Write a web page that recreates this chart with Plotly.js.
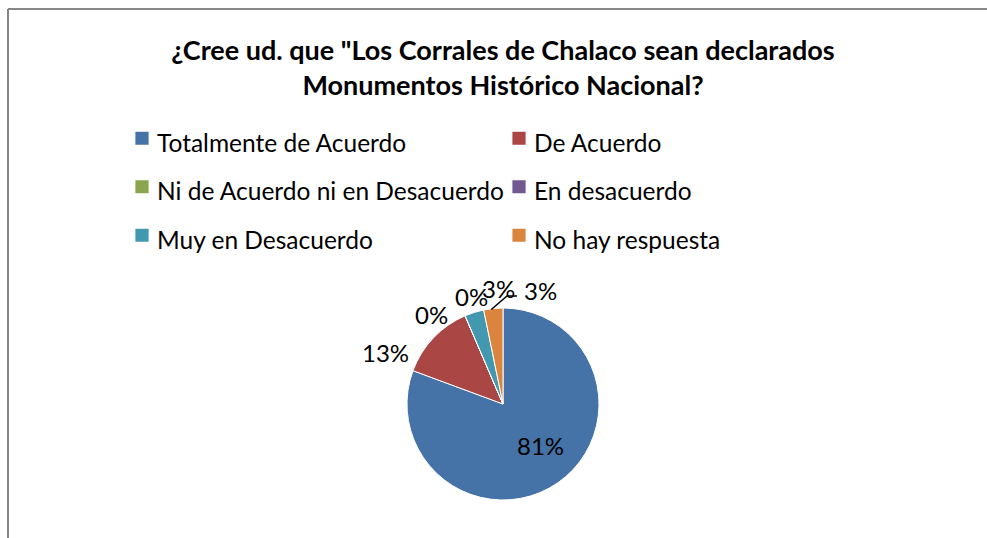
<!DOCTYPE html>
<html>
<head>
<meta charset="utf-8">
<script src="https://cdn.plot.ly/plotly-3.0.1.min.js"></script>
<style>
html,body{margin:0;padding:0;background:#fff;}
#chart{width:987px;height:538px;}
#chart .legendpie{transform: translate(25px,0px) scale(1.2);}
</style>
</head>
<body>
<div id="chart"></div>
<script>
const categories = ["Totalmente de Acuerdo", "De Acuerdo", "Ni de Acuerdo ni en Desacuerdo", "En desacuerdo", "Muy en Desacuerdo", "No hay respuesta"];
const responses = [25, 4, 0, 0, 1, 1];
const sliceColors = ["#4572A7", "#AA4643", "#89A54E", "#71588F", "#4198AF", "#DB843D"];
const titleText = '¿Cree ud. que "Los Corrales de Chalaco sean declarados<br>Monumentos Histórico Nacional?';

const FONT = "Lato, 'Open Sans', sans-serif";
const W = 987, H = 538;
// pie geometry (pixels)
const CX = 503, CY = 404, R = 96;
// label placement (pixel offsets from pie centre) imitating the original's best-fit layout
const labelPos = [[37, 41], [-118, -52], [-72, -90], [-32, -107], [-5, -116], [37, -114]];

const total = responses.reduce((a, b) => a + b, 0);
const pct = responses.map(v => Math.round(100 * v / total) + '%');

const trace = {
  type: 'pie',
  labels: categories.map(c => '<span style="font-size:24.5px">' + c + '</span>'),
  values: responses,
  marker: {colors: sliceColors, line: {color: '#ffffff', width: 1}},
  sort: false,
  direction: 'clockwise',
  rotation: 0,
  textinfo: 'none',
  hoverinfo: 'label+percent',
  domain: {x: [(CX - R) / W, (CX + R) / W], y: [(H - CY - R) / H, (H - CY + R) / H]},
  showlegend: true
};

const px = x => x / W;
const py = y => 1 - y / H;

const annotations = pct.map((t, i) => ({
  xref: 'paper', yref: 'paper',
  x: px(CX + labelPos[i][0]), y: py(CY + labelPos[i][1]),
  xanchor: 'center', yanchor: 'middle',
  text: t, showarrow: false,
  font: {family: FONT, size: 24, color: '#000000'}
}));

// leader line for the last slice (from its mid-angle on the rim toward its label)
let cum = 0;
const mids = responses.map(v => { const a = (cum + v / 2) / total * 2 * Math.PI; cum += v; return a; });
const lastI = responses.length - 1;
const lx0 = CX + R * Math.sin(mids[lastI]) - 2, ly0 = CY - R * Math.cos(mids[lastI]) + 1;
const lbx = CX + labelPos[lastI][0] - 23, lby = CY + labelPos[lastI][1] + 6;

const layout = {
  width: W, height: H,
  margin: {l: 0, r: 0, t: 0, b: 0},
  paper_bgcolor: '#ffffff',
  font: {family: FONT, color: '#000000'},
  title: {
    text: titleText,
    font: {family: FONT, size: 27, color: '#000000', weight: 'bold'},
    x: 503 / W, xanchor: 'center',
    y: 1 - 60 / H, yanchor: 'middle'
  },
  legend: {
    orientation: 'h',
    x: 117 / W, xanchor: 'left',
    y: 1 - 109 / H, yanchor: 'top',
    font: {family: FONT, size: 35, color: '#000000'},
    entrywidth: 332, entrywidthmode: 'pixels',
    traceorder: 'normal',
    bgcolor: 'rgba(0,0,0,0)'
  },
  annotations: annotations,
  shapes: [
    {type: 'line', xref: 'paper', yref: 'paper', x0: px(8), x1: 1.01, y0: py(9), y1: py(9), line: {color: '#868686', width: 2}},
    {type: 'line', xref: 'paper', yref: 'paper', x0: px(8), x1: px(8), y0: py(9), y1: -0.01, line: {color: '#868686', width: 2}},
    {type: 'path', xref: 'paper', yref: 'paper',
     path: 'M' + px(lx0) + ',' + py(ly0) + ' L' + px(lbx - 10) + ',' + py(lby) + ' L' + px(lbx) + ',' + py(lby),
     line: {color: '#000000', width: 1.5}}
  ]
};

Plotly.newPlot('chart', [trace], layout, {displayModeBar: false, staticPlot: true});
</script>
</body>
</html>
